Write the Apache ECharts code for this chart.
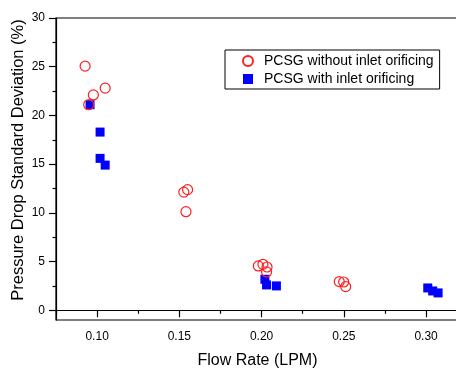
<!DOCTYPE html>
<html>
<head>
<meta charset="utf-8">
<script src="https://cdn.jsdelivr.net/npm/echarts@6/dist/echarts.min.js"></script>
<style>html,body{margin:0;padding:0;background:#fff}#c{width:456px;height:369px}</style>
</head>
<body>
<div id="c"></div>
<script>
// ---- data ----
var seriesNames = ['PCSG without inlet orificing', 'PCSG with inlet orificing'];
var flowWithout = [0.0927, 0.0949, 0.0977, 0.1049, 0.1527, 0.1550, 0.1540, 0.1980, 0.2008, 0.2033, 0.2030, 0.2472, 0.2499, 0.2511];
var devWithout  = [25.06, 21.1, 22.1, 22.8, 12.13, 12.38, 10.12, 4.55, 4.72, 4.44, 3.93, 2.94, 2.90, 2.43];
var flowWith = [0.0957, 0.1018, 0.1018, 0.1049, 0.2020, 0.2030, 0.2090, 0.3010, 0.3040, 0.3073];
var devWith  = [21.1, 18.29, 15.59, 14.9, 3.18, 2.6, 2.5, 2.29, 1.98, 1.78];
var xMajorTicks = [0.10, 0.15, 0.20, 0.25, 0.30];
var xMinorTicks = [0.075, 0.125, 0.175, 0.225, 0.275];
var yMajorTicks = [0, 5, 10, 15, 20, 25, 30];
var yMinorTicks = [2.5, 7.5, 12.5, 17.5, 22.5, 27.5];
var xTitle = 'Flow Rate (LPM)';
var yTitle = 'Pressure Drop Standard Deviation (%)';

function zip(a, b) { return a.map(function (v, i) { return [v, b[i]]; }); }

var FONT = 'Liberation Sans';
var chart = echarts.init(document.getElementById('c'), null, { renderer: 'canvas' });
var lineStyle = { color: '#000', width: 1.2 };
chart.setOption({
  animation: false,
  backgroundColor: '#fff',
  grid: { left: 56, right: -3, top: 18, bottom: 49, containLabel: false, outerBoundsMode: 'none',
    show: true, borderColor: '#000', borderWidth: 1.2, backgroundColor: 'transparent' },
  legend: {
    orient: 'vertical', left: 225, top: 50,
    data: seriesNames,
    borderColor: '#000', borderWidth: 1, padding: [4, 6, 3, 17], itemGap: 4,
    itemWidth: 10, itemHeight: 10,
    textStyle: { fontFamily: FONT, fontSize: 14, color: '#000', padding: [0, 0, 0, 6] }
  },
  xAxis: [{
    type: 'value', min: 0.075, max: 0.32, position: 'bottom',
    name: xTitle, nameLocation: 'middle', nameGap: 33, nameMoveOverlap: false,
    nameTextStyle: { fontFamily: FONT, fontSize: 16, color: '#000' },
    axisLine: { lineStyle: lineStyle },
    axisTick: { customValues: xMajorTicks, length: 7, lineStyle: lineStyle },
    axisLabel: { customValues: xMajorTicks, margin: 11, fontFamily: FONT, fontSize: 12, color: '#000',
      formatter: function (v) { return v.toFixed(2); } },
    splitLine: { show: false }
  }, {
    type: 'value', min: 0.075, max: 0.32, position: 'bottom',
    axisLine: { show: false },
    axisTick: { customValues: xMinorTicks, length: 3.5, lineStyle: lineStyle },
    axisLabel: { show: false },
    splitLine: { show: false }
  }],
  yAxis: [{
    type: 'value', min: -1, max: 30, position: 'left',
    name: yTitle, nameLocation: 'middle', nameGap: 29, nameRotate: 90, nameMoveOverlap: false,
    nameTextStyle: { fontFamily: FONT, fontSize: 16.5, color: '#000', padding: [0, 0, 0, 18] },
    axisLine: { show: true, lineStyle: lineStyle },
    axisTick: { show: true, customValues: yMajorTicks, length: 7, lineStyle: lineStyle },
    axisLabel: { customValues: yMajorTicks, margin: 11, fontFamily: FONT, fontSize: 12, color: '#000' },
    splitLine: { show: false }
  }, {
    type: 'value', min: -1, max: 30, position: 'left',
    axisLine: { show: false },
    axisTick: { show: true, customValues: yMinorTicks, length: 3.5, lineStyle: lineStyle },
    axisLabel: { show: false },
    splitLine: { show: false }
  }],
  series: [{
    name: seriesNames[1], type: 'scatter', data: zip(flowWith, devWith),
    symbol: 'rect', symbolSize: 9,
    itemStyle: { color: '#0000ff', opacity: 1 }, z: 2
  }, {
    name: seriesNames[0], type: 'scatter', data: zip(flowWithout, devWithout),
    symbol: 'circle', symbolSize: 10,
    itemStyle: { color: 'rgba(0,0,0,0)', borderColor: '#ff2020', borderWidth: 1.2, opacity: 1 }, z: 3
  }]
});
</script>
</body>
</html>
